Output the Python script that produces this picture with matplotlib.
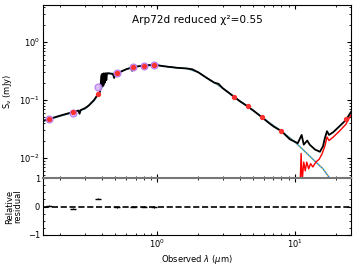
import numpy as np
import matplotlib
matplotlib.use('Agg')
import matplotlib.pyplot as plt

# total model SED (black)
lam_model = [0.15, 0.165, 0.20, 0.246, 0.26, 0.27, 0.275, 0.28, 0.30, 0.32, 0.35, 0.373,
             0.385, 0.39, 0.395, 0.40, 0.403, 0.406, 0.41, 0.413, 0.42, 0.425, 0.43, 0.435,
             0.45, 0.48, 0.49, 0.50, 0.513, 0.55, 0.60, 0.65, 0.66, 0.67, 0.75, 0.80, 0.85,
             0.95, 1.0, 1.1, 1.2, 1.4, 1.65, 1.8, 2.0, 2.3, 2.6, 2.8, 3.0, 3.3, 3.6, 4.0,
             4.5, 5.0, 5.8, 6.5, 7.0, 8.0, 9.2, 10.5, 11.2, 11.6, 12.3, 12.8, 14.0, 15.2,
             16.0, 16.5, 17.1, 17.7, 19.0, 21.0, 23.4, 25.5]
f_model = [0.044, 0.047, 0.054, 0.062, 0.064, 0.066, 0.058, 0.067, 0.072, 0.080, 0.100, 0.125,
           0.135, 0.16, 0.26, 0.28, 0.17, 0.28, 0.18, 0.29, 0.20, 0.29, 0.22, 0.29,
           0.29, 0.28, 0.24, 0.285, 0.29, 0.31, 0.34, 0.36, 0.32, 0.37, 0.385, 0.39, 0.40,
           0.40, 0.40, 0.385, 0.375, 0.36, 0.35, 0.34, 0.30, 0.24, 0.20, 0.19, 0.16, 0.135, 0.115, 0.095,
           0.079, 0.066, 0.050, 0.040, 0.035, 0.029, 0.021, 0.018, 0.025, 0.017, 0.020, 0.017, 0.014, 0.0128,
           0.016, 0.022, 0.029, 0.025, 0.028, 0.035, 0.045, 0.062]

# stellar component (blue)
lam_star = [0.15, 0.165, 0.20, 0.246, 0.30, 0.35, 0.373, 0.39, 0.40, 0.45, 0.513, 0.60, 0.67,
            0.80, 1.0, 1.4, 1.65, 2.0, 2.6, 3.0, 3.6, 4.5, 5.8, 8.0, 10.0, 12.0, 14.0, 16.0, 18.0]
f_star = [0.043, 0.046, 0.053, 0.061, 0.070, 0.097, 0.122, 0.15, 0.27, 0.285, 0.29, 0.34, 0.37,
          0.39, 0.40, 0.36, 0.35, 0.30, 0.20, 0.16, 0.115, 0.079, 0.050, 0.029, 0.019, 0.0125,
          0.0088, 0.0065, 0.0044]

# dust component (red)
lam_dust = [10.9, 11.1, 11.3, 11.6, 11.9, 12.2, 12.6, 13.0, 13.5, 14.2, 15.0, 15.8, 16.5,
            17.1, 17.7, 19.0, 21.0, 23.4, 25.5]
f_dust = [0.003, 0.012, 0.004, 0.0085, 0.006, 0.0085, 0.0065, 0.008, 0.007, 0.0085, 0.0095,
          0.012, 0.016, 0.023, 0.020, 0.023, 0.029, 0.038, 0.055]

# observed photometry (purple) and model photometry (red dots)
lam_obs = [0.165, 0.246, 0.373, 0.513, 0.67, 0.805, 0.95]
f_obs = [0.047, 0.060, 0.168, 0.29, 0.37, 0.386, 0.40]
lam_phot = [0.165, 0.246, 0.373, 0.513, 0.67, 0.805, 0.95, 3.61, 4.56, 5.77, 7.9, 23.4]
f_phot = [0.047, 0.063, 0.127, 0.29, 0.37, 0.386, 0.40, 0.113, 0.079, 0.051, 0.029, 0.047]

# residuals
resid = [0.03, -0.08, 0.27, -0.02, 0.0, 0.0, -0.02]
resid_err = [0.01, 0.02, 0.02, 0.02, 0.01, 0.01, 0.04]

fig = plt.figure(figsize=(3.57, 2.67), dpi=100)
ax = fig.add_axes([0.120, 0.333, 0.863, 0.648])
axr = fig.add_axes([0.120, 0.120, 0.863, 0.213], sharex=ax)

ax.plot(lam_star, f_star, color='#1f8fe0', lw=1.0, zorder=2)
ax.plot(lam_star, f_star, color='#f5b000', lw=0.8, ls=':', zorder=2)
ax.plot(lam_dust, f_dust, color='red', lw=1.0, zorder=3)
ax.plot(lam_model, f_model, color='black', lw=1.3, zorder=4)
ax.plot(lam_obs, f_obs, 'o', ms=5, mfc='#d9b8f5', mec='#b070f0', mew=0.8, alpha=0.9, zorder=5)
ax.plot(lam_phot, f_phot, 'o', ms=2.8, color='#ff3030', zorder=6)

ax.set_xscale('log')
ax.set_yscale('log')
ax.set_xlim(0.149, 25.5)
ax.set_ylim(0.0045, 4.35)
ax.set_ylabel(r'S$_\nu$ (mJy)', fontsize=6, labelpad=4)
ax.text(0.5, 0.915, 'Arp72d reduced χ²=0.55', transform=ax.transAxes, ha='center',
        va='center', fontsize=7.6)
ax.tick_params(which='both', direction='in', top=True, right=True, labelsize=6, pad=2)
ax.tick_params(which='major', length=3)
ax.tick_params(which='minor', length=1.5)
ax.tick_params(labelbottom=False)

axr.errorbar(lam_obs, resid, yerr=resid_err, fmt='_', color='black', ms=5, lw=0.8)
axr.axhline(0, color='black', ls='--', lw=1.2)
axr.set_ylim(-1, 1)
axr.set_yticks([-1, 0, 1])
axr.set_yticks(np.arange(-1, 1.01, 0.25), minor=True)
axr.set_xlabel(r'Observed $\lambda$ ($\mu$m)', fontsize=6, labelpad=2)
axr.set_ylabel('Relative\nresidual', fontsize=6, labelpad=4, linespacing=0.9)
axr.tick_params(which='both', direction='in', top=True, right=True, labelsize=6, pad=2)
axr.tick_params(which='major', length=3)
axr.tick_params(which='minor', length=1.5)

for a in (ax, axr):
    for s in a.spines.values():
        s.set_linewidth(0.8)
axr.spines['top'].set_color('#777777')
axr.spines['top'].set_linewidth(1.5)

fig.savefig('out.png', dpi=100)
